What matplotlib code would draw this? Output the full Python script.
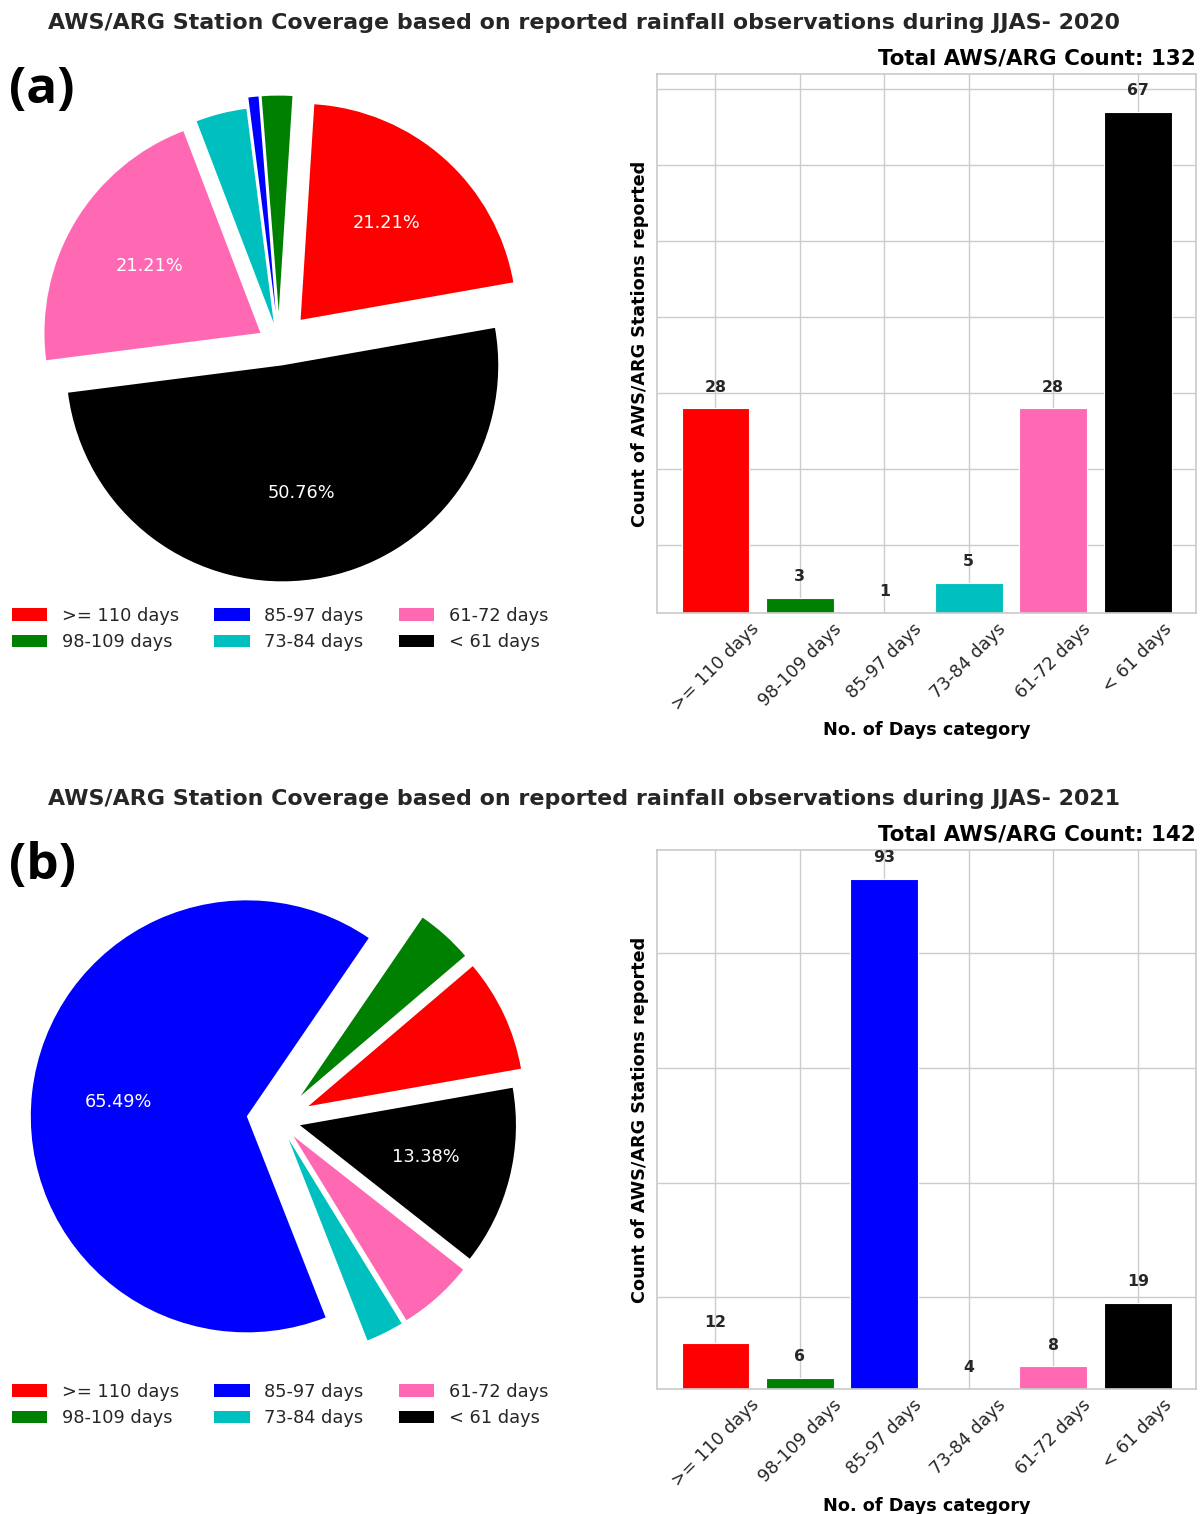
import matplotlib
matplotlib.use("Agg")
import matplotlib.pyplot as plt

# Day-count categories shared by both seasons
categories = [">= 110 days", "98-109 days", "85-97 days", "73-84 days", "61-72 days", "< 61 days"]
colors = ["red", "green", "blue", "c", "hotpink", "black"]

# Station counts per category
counts_2020 = [28, 3, 1, 5, 28, 67]
counts_2021 = [12, 6, 93, 4, 8, 19]

years = ["2020", "2021"]
panel_tags = ["(a)", "(b)"]
EXPLODE = [0.15, 0.15, 0.15, 0.1, 0.1, 0.1]

W, H = 1204, 1514
fig = plt.figure(figsize=(W / 100, H / 100), dpi=100)

TEXT_DARK = "#262626"
GRID = "#cccccc"


def fx(px):
    return px / W


def fy(py):
    return 1 - py / H


def pct_label(p):
    return f"{p:.2f}%" if p > 10 else ""


def draw_row(counts, year, tag, dy):
    # pie chart on the left
    ax_p = fig.add_axes([fx(9), fy(614 + dy), 540 / W, 540 / H])
    wedges, _, _ = ax_p.pie(counts, explode=EXPLODE, colors=colors, startangle=10,
                            autopct=pct_label, pctdistance=0.6,
                            textprops={"color": "white", "fontsize": 12.8})
    ax_p.set_xlim(-1.25, 1.25)
    ax_p.set_ylim(-1.25, 1.25)
    ax_p.set_aspect("equal")
    ax_p.axis("off")
    ax_p.legend(wedges, categories, ncol=3, frameon=False, fontsize=12.8,
                loc="center", bbox_to_anchor=(fx(280), fy(629 + dy)),
                bbox_transform=fig.transFigure, labelcolor=TEXT_DARK,
                handlelength=2.0, columnspacing=2.0)

    # bar chart on the right
    ax_b = fig.add_axes([fx(657), fy(613 + dy), 539 / W, 539 / H])
    x = range(len(categories))
    ax_b.bar(x, counts, width=0.8, color=colors, edgecolor="white", linewidth=0.8, zorder=2)
    ax_b.set_ylim(min(counts), max(counts) + 5)
    yspan = max(counts) + 5 - min(counts)
    for xi, v in zip(x, counts):
        ax_b.text(xi, v + yspan * 0.039, str(v), ha="center", va="center",
                  fontsize=11.3, fontweight="bold", color=TEXT_DARK, zorder=3)
    ax_b.set_xticks(list(x))
    ax_b.set_xticklabels(categories, rotation=45, fontsize=12.6, color=TEXT_DARK)
    ax_b.tick_params(axis="y", labelleft=False, length=0)
    ax_b.tick_params(axis="x", length=0, pad=5)
    ax_b.grid(True, color=GRID, linewidth=1, zorder=0)
    ax_b.set_axisbelow(True)
    for sp in ax_b.spines.values():
        sp.set_color(GRID)
        sp.set_linewidth(1.25)
    ax_b.set_ylabel("Count of AWS/ARG Stations reported", fontsize=12.7,
                    fontweight="bold", labelpad=6)
    ax_b.set_xlabel("No. of Days category", fontsize=12.7, fontweight="bold", labelpad=4.5)
    ax_b.set_title(f"Total AWS/ARG Count: {sum(counts)}", loc="right",
                   fontsize=15.4, fontweight="bold", pad=7)

    fig.text(fx(584), fy(23 + dy),
             f"AWS/ARG Station Coverage based on reported rainfall observations during JJAS- {year}",
             ha="center", va="center", fontsize=15.9, fontweight="bold", color=TEXT_DARK)
    fig.text(fx(9), fy(90 + dy), tag, ha="left", va="center", fontsize=37,
             fontweight="bold", color="black", family=["Open Sans", "DejaVu Sans"])


draw_row(counts_2020, years[0], panel_tags[0], 0)
draw_row(counts_2021, years[1], panel_tags[1], 776)

fig.savefig("out.png", dpi=100, facecolor="white")
